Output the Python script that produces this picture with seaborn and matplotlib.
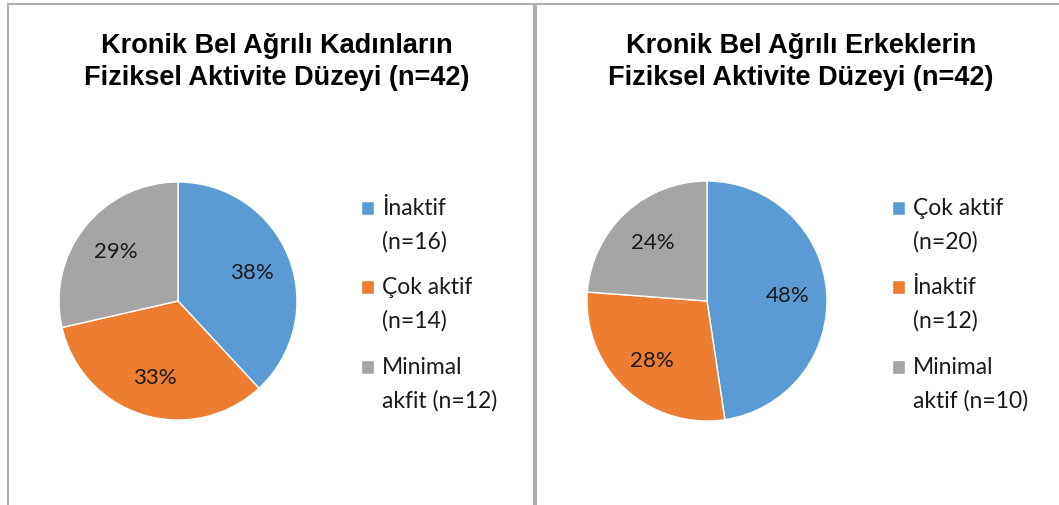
import matplotlib
matplotlib.use("Agg")
import matplotlib.pyplot as plt
import seaborn as sns
from matplotlib.patches import Rectangle
from matplotlib.legend_handler import HandlerPatch

# ---- data ----
titles = ["Kronik Bel Ağrılı Kadınların\nFiziksel Aktivite Düzeyi (n=42)",
          "Kronik Bel Ağrılı Erkeklerin\nFiziksel Aktivite Düzeyi (n=42)"]
women_labels = ["İnaktif\n(n=16)", "Çok aktif\n(n=14)", "Minimal\nakfit (n=12)"]
women_counts = [16, 14, 12]
women_pct = ["38%", "33%", "29%"]
men_labels = ["Çok aktif\n(n=20)", "İnaktif\n(n=12)", "Minimal\naktif (n=10)"]
men_counts = [20, 12, 10]
men_pct = ["48%", "28%", "24%"]

sns.set_theme(style="white")
colors = sns.color_palette(["#5B9BD5", "#ED7D31", "#A5A5A5"])

W, H = 1059, 506
fig = plt.figure(figsize=(W / 100, H / 100), dpi=100)
fig.patch.set_facecolor("white")


def fx(px):
    return px / W


def fy(py):
    return 1 - py / H


# panel borders
for x0, x1 in [(8, 534), (536, 1075)]:
    fig.add_artist(Rectangle((fx(x0), fy(530)), (x1 - x0) / W, (530 - 5) / H,
                             transform=fig.transFigure, fill=False,
                             ec="#acacac", lw=1.4))

LEG_FS = 16.5
LINE_SP = 1.7
HANDLE_OFF = 12.0  # points, lifts square to first text line


def square(legend, orig_handle, xdescent, ydescent, width, height, fontsize):
    return Rectangle((-xdescent, -ydescent + HANDLE_OFF), width, height)


panels = [
    dict(cx=178, cy=302, r=119, counts=women_counts, pct=women_pct,
         labels=women_labels, title=titles[0], tx=277, leg=(361, 198)),
    dict(cx=707, cy=302, r=120, counts=men_counts, pct=men_pct,
         labels=men_labels, title=titles[1], tx=801, leg=(892, 198)),
]

for p in panels:
    r = p["r"]
    ax = fig.add_axes([fx(p["cx"] - r), fy(p["cy"] + r), 2 * r / W, 2 * r / H])
    it = iter(p["pct"])
    wedges, _, autotexts = ax.pie(
        p["counts"], colors=colors, startangle=90, counterclock=False,
        autopct=lambda v, it=it: next(it), pctdistance=0.67,
        wedgeprops=dict(linewidth=1.0, edgecolor="white"),
        textprops=dict(fontsize=16, family="Lato", color="#1a1a1a"))
    ax.set_xlim(-1, 1)
    ax.set_ylim(-1, 1)
    ax.set_aspect("equal")
    ax.axis("off")

    fig.text(fx(p["tx"]), fy(62), p["title"], ha="center", va="center",
             fontsize=19.5, fontweight="bold", family="Liberation Sans",
             linespacing=1.3, color="black")

    leg = fig.legend(wedges, p["labels"], loc="upper left",
                     bbox_to_anchor=(fx(p["leg"][0]), fy(p["leg"][1])),
                     bbox_transform=fig.transFigure, frameon=False,
                     prop=dict(family="Lato", size=LEG_FS),
                     handlelength=0.57, handleheight=0.57, handletextpad=0.33,
                     labelspacing=1.07, borderpad=0, borderaxespad=0,
                     handler_map={w: HandlerPatch(patch_func=square) for w in wedges})
    for t in leg.get_texts():
        t.set_linespacing(LINE_SP)
        t.set_color("#1a1a1a")

fig.savefig("out.png", dpi=100, facecolor="white")
